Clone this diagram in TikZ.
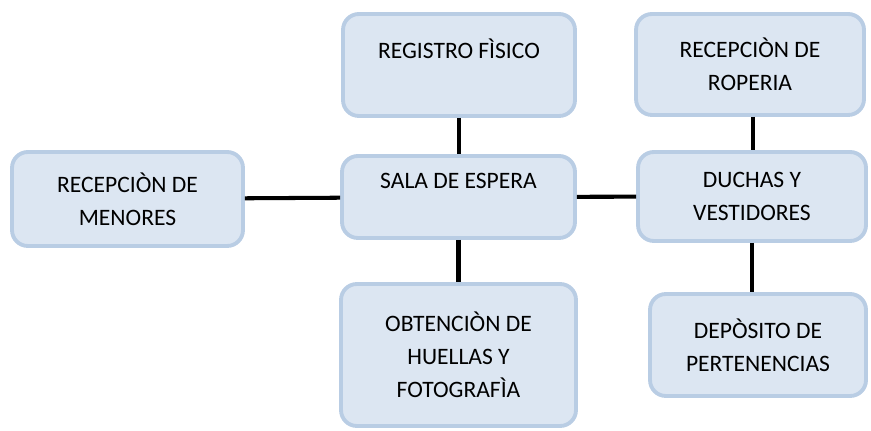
\documentclass[tikz,border=0pt]{standalone}
\usepackage{fontspec}
\setmainfont{Carlito}
\definecolor{cajaborde}{RGB}{185,205,228}
\definecolor{cajafondo}{RGB}{220,230,242}
\tikzset{
  caja/.style={draw=cajaborde, fill=cajafondo, line width=2.2pt, rounded corners=9pt,
    align=center, inner sep=0pt, font=\fontsize{13.4}{18.7}\selectfont},
  enlace/.style={line width=2.3pt, black}
}
\begin{document}
\begin{tikzpicture}[x=0.02cm, y=-0.02cm]
  \useasboundingbox (0,0) rectangle (871,431);

  % Cajas
  \node[caja, minimum width=4.64cm, minimum height=2.04cm] (registro) at (459,65) {REGISTRO FÌSICO\\ \mbox{}};
  \node[caja, minimum width=4.56cm, minimum height=2.02cm] (roperia) at (750,64.5) {RECEPCIÒN DE\\ ROPERIA};
  \node[caja, minimum width=4.62cm, minimum height=1.88cm] (menores) at (127.5,199) {RECEPCIÒN DE\\ MENORES};
  \node[caja, minimum width=4.66cm, minimum height=1.64cm] (sala) at (458.5,197) {SALA DE ESPERA\\ \mbox{}};
  \node[caja, minimum width=4.56cm, minimum height=1.78cm] (duchas) at (752,196.5) {DUCHAS Y\\ VESTIDORES};
  \node[caja, minimum width=4.70cm, minimum height=2.84cm] (obtencion) at (458.5,355) {OBTENCIÒN DE\\ HUELLAS Y\\ FOTOGRAFÌA};
  \node[caja, minimum width=4.32cm, minimum height=2.04cm] (deposito) at (758,345) {DEPÒSITO DE\\ PERTENENCIAS};

  % Enlaces
  \draw[enlace] (registro.south) -- (registro.south |- sala.north);
  \draw[enlace] (menores) -- (sala);
  \draw[enlace] (sala) -- (duchas);
  \draw[enlace] (sala.south) -- (sala.south |- obtencion.north);
  \draw[enlace] ([xshift=0.06cm]roperia.south) -- ([xshift=0.06cm]roperia.south |- duchas.north);
  \draw[enlace] (duchas.south) -- (duchas.south |- deposito.north);
\end{tikzpicture}
\end{document}
